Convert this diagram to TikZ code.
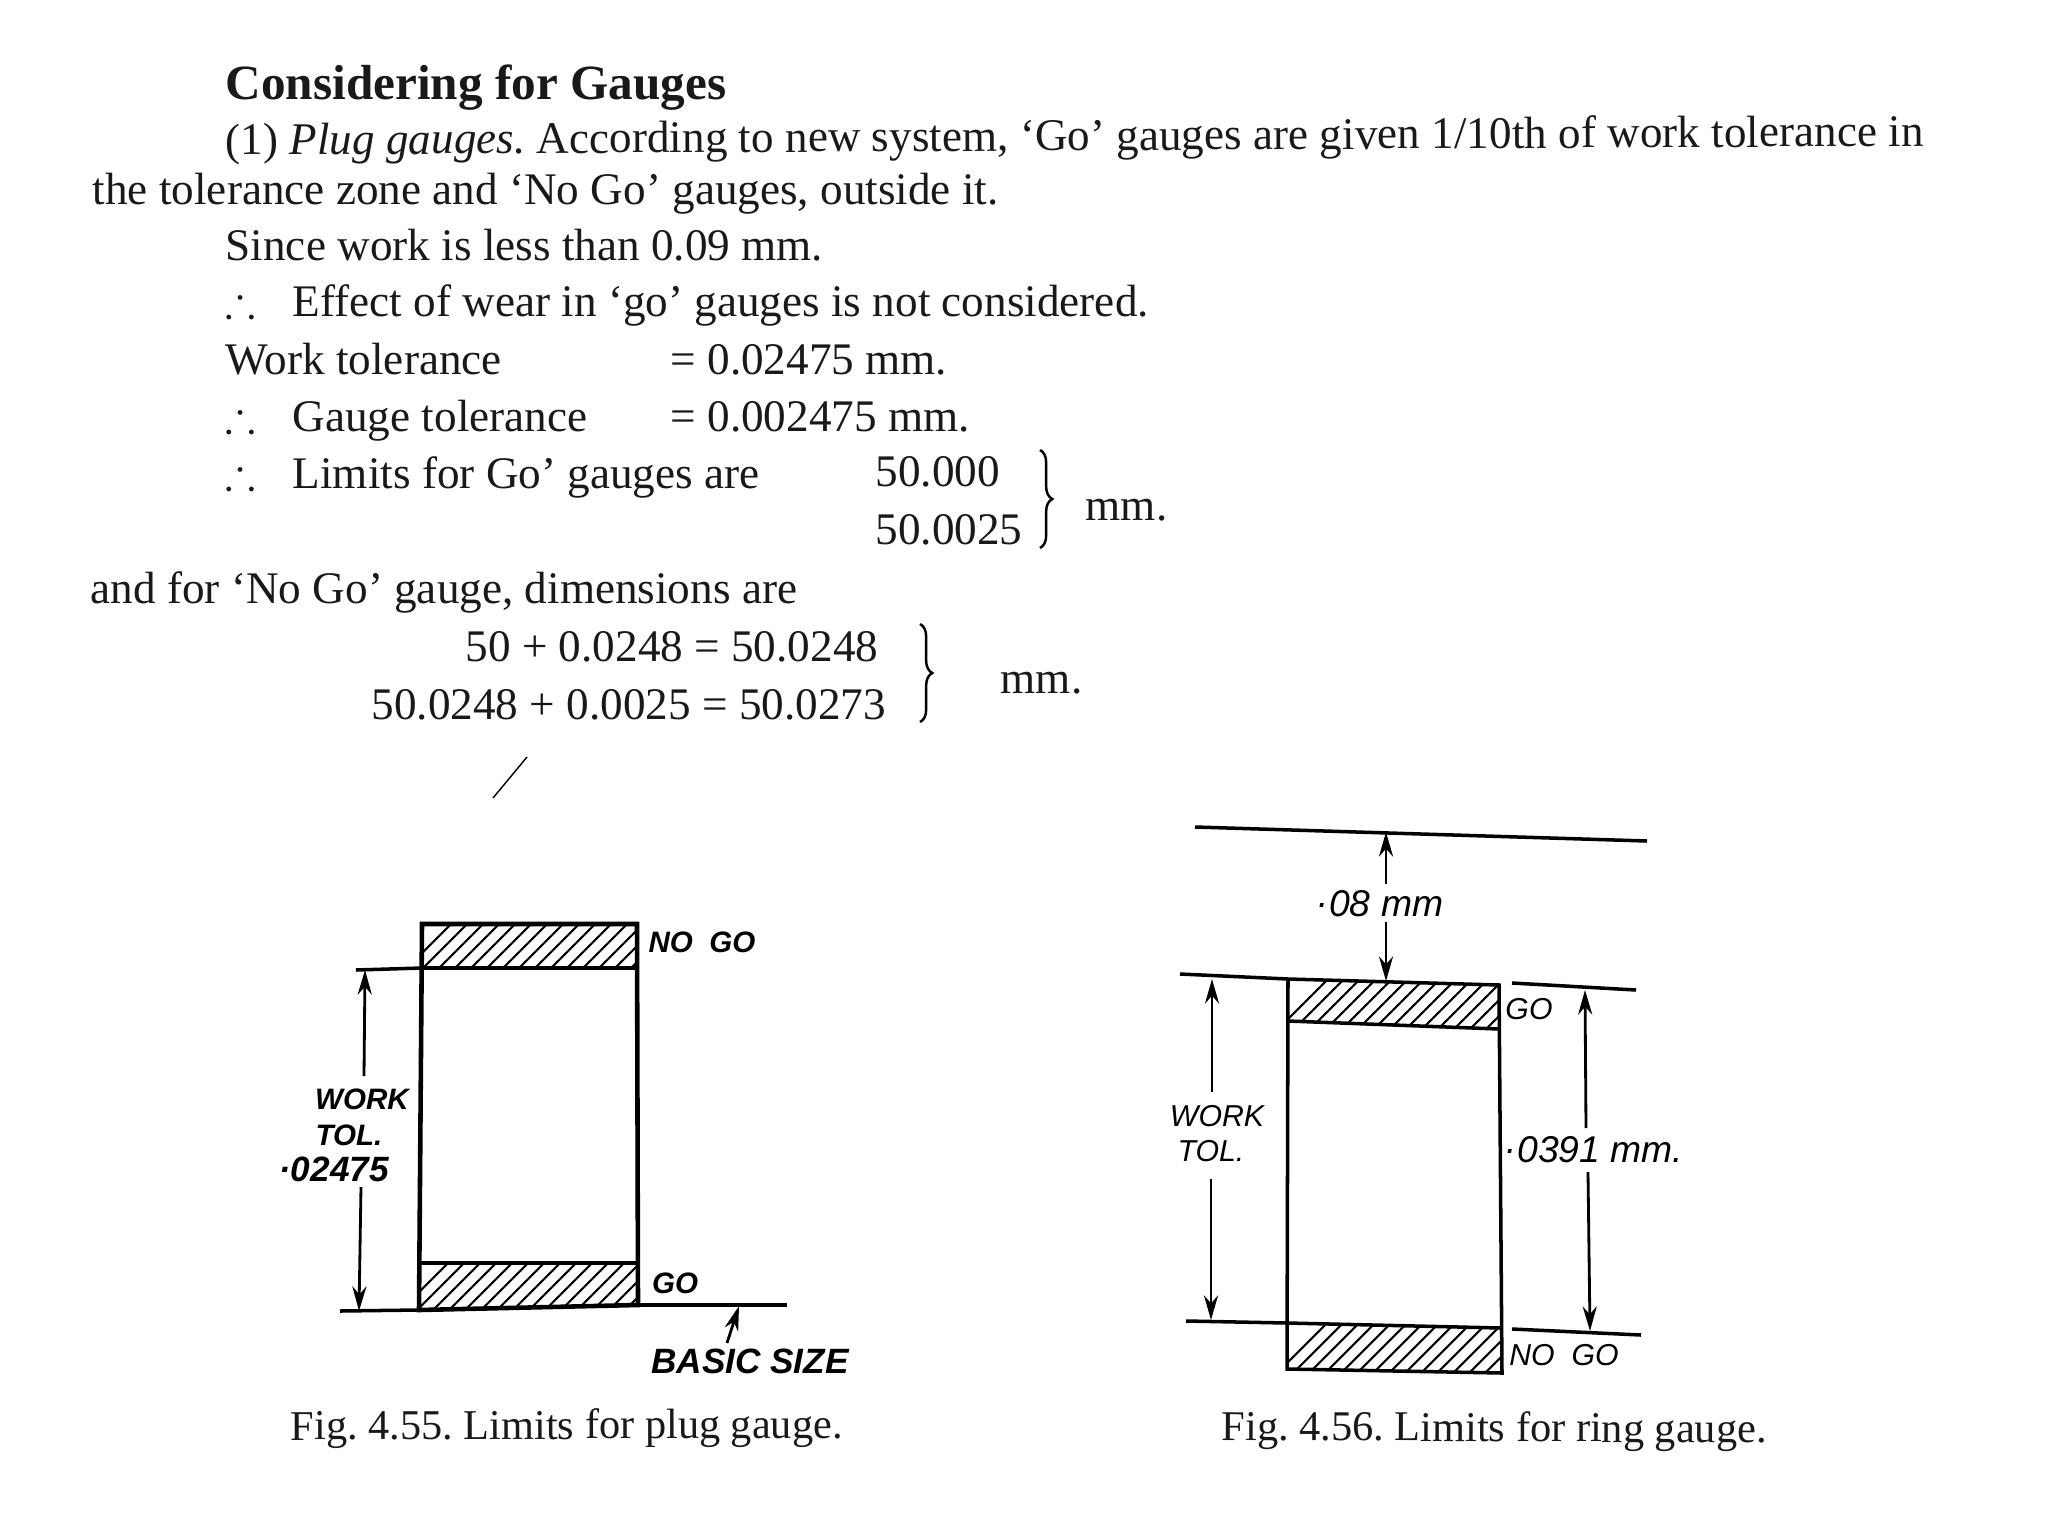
\documentclass[tikz,border=0pt]{standalone}
\usepackage{fontspec}
\usepackage{amssymb}
\usetikzlibrary{arrows.meta, decorations.pathreplacing}
\setmainfont{Liberation Serif}
\newfontfamily\gaugefont{Liberation Sans}
\frenchspacing
\newcommand{\gdot}{\raisebox{.25em}{.}}

\tikzset{
    textline/.style={anchor=base west, inner sep=0pt, text=black!90, font=\fontsize{12.85}{15}\selectfont},
    capline/.style={textline, font=\fontsize{12.05}{15}\selectfont},
    figlabel/.style={inner sep=0pt, font=\gaugefont\itshape\fontsize{8.6}{10}\selectfont},
    figvalue/.style={inner sep=0pt, font=\gaugefont\itshape\fontsize{10.6}{12}\selectfont},
    boldlabel/.style={inner sep=0pt, font=\gaugefont\itshape\bfseries\fontsize{8.4}{10}\selectfont},
    boldvalue/.style={inner sep=0pt, font=\gaugefont\itshape\bfseries\fontsize{10}{12}\selectfont},
    outline/.style={line width=1.3pt},
    thinline/.style={line width=1pt},
    dimarrow/.style={line width=0.8pt, -{Stealth[length=7pt,width=4pt]}},
    hatchline/.style={line width=0.6pt},
    bracket/.style={line width=0.7pt, decorate, decoration={brace, amplitude=3.5pt, aspect=0.5}}
}

\begin{document}
\begin{tikzpicture}[x=0.01cm,y=-0.01cm]
    \useasboundingbox (0,0) rectangle (2048,1536);

    % text above the figures
    \node[textline, font=\bfseries\fontsize{14}{16}\selectfont] (head) at (225,99) {Considering for Gauges};
    \node[textline, rotate=0.3] (plug) at (225,155) {(1) \textit{Plug gauges.} According to new system, `Go' gauges are given 1/10th of work tolerance in};
    \node[textline] (zone) at (92,204) {the tolerance zone and `No Go' gauges, outside it.};
    \node[textline] (since) at (225,260) {Since work is less than 0.09 mm.};
    \node[textline] (thfa) at (225,316) {$\therefore$};
    \node[textline] (wear) at (292,316) {Effect of wear in `go' gauges is not considered.};
    \node[textline] (work) at (225,374) {Work tolerance};
    \node[textline] (workv) at (670,374) {= 0.02475 mm.};
    \node[textline] (thfb) at (225,431) {$\therefore$};
    \node[textline] (gauge) at (292,431) {Gauge tolerance};
    \node[textline] (gaugev) at (670,431) {= 0.002475 mm.};
    \node[textline] (thfc) at (225,488) {$\therefore$};
    \node[textline] (limits) at (292,488) {Limits for Go' gauges are};
    \node[textline] (lima) at (875,486) {50.000};
    \node[textline] (limb) at (875,544) {50.0025};
    \node[textline] (limmm) at (1085,520) {mm.};
    \node[textline] (forno) at (90,603) {and for `No Go' gauge, dimensions are};
    \node[textline] (noa) at (465,661) {50 + 0.0248 = 50.0248};
    \node[textline] (nob) at (371,719) {50.0248 + 0.0025 = 50.0273};
    \node[textline] (nomm) at (1000,693) {mm.};

    \coordinate (limbt) at (1040,450);
    \coordinate (limbb) at (1040,548);
    \coordinate (nobt) at (920,624);
    \coordinate (nobb) at (920,722);
    \draw[bracket] (limbt) -- (limbb);
    \draw[bracket] (nobt) -- (nobb);

    \coordinate (marka) at (493,798);
    \coordinate (markb) at (527,757);
    \draw[line width=0.4pt] (marka) -- (markb);

    % plug gauge
    \coordinate (pa) at (422,924);
    \coordinate (pb) at (637,924);
    \coordinate (pc) at (638,968);
    \coordinate (pd) at (422,968);
    \coordinate (pe) at (419,1263);
    \coordinate (pf) at (638,1263);
    \coordinate (pg) at (638,1305);
    \coordinate (ph) at (419,1310);

    \begin{scope}
        \clip (pa) -- (pb) -- (pc) -- (pd) -- cycle;
        \foreach \i in {0,...,16} {
            \draw[hatchline] (400+\i*16,975) -- ++(56,-56);
        }
    \end{scope}
    \begin{scope}
        \clip (pe) -- (pf) -- (pg) -- (ph) -- cycle;
        \foreach \i in {0,...,16} {
            \draw[hatchline] (396+\i*16,1315) -- ++(56,-56);
        }
    \end{scope}
    \draw[outline] (pa) -- (pb) -- (pg) -- (ph) -- cycle;
    \draw[outline] (pd) -- (pc);
    \draw[outline] (pe) -- (pf);

    \coordinate (ptol) at (356,970);
    \coordinate (pbase) at (340,1311);
    \coordinate (pbaser) at (787,1305);
    \coordinate (ptipa) at (365,970);
    \coordinate (pgapa) at (364,1076);
    \coordinate (pgapb) at (361,1187);
    \coordinate (ptipb) at (359,1311);
    \draw[thinline] (ptol) -- (pd);
    \draw[thinline] (pbase) -- (ph);
    \draw[thinline] (pg) -- (pbaser);
    \draw[dimarrow] (pgapa) -- (ptipa);
    \draw[dimarrow] (pgapb) -- (ptipb);

    \node[boldlabel] (pnogo) at (702,942) {NO\ \ GO};
    \node[boldlabel] (pgo) at (675,1283) {GO};
    \node[boldvalue] (pbasic) at (750,1361) {BASIC SIZE};
    \coordinate (pbasefoot) at (727,1343);
    \coordinate (pbasetip) at (739,1306);
    \draw[dimarrow] (pbasefoot) -- (pbasetip);
    \node[boldlabel] (pwork) at (362,1099) {WORK};
    \node[boldlabel] (ptolt) at (349,1135) {TOL.};
    \node[boldvalue] (pval) at (335,1169) {\gdot02475};
    \node[capline, rotate=0.2] (pcap) at (290,1440) {Fig. 4.55. Limits for plug gauge.};

    % ring gauge
    \coordinate (ra) at (1288,979);
    \coordinate (rb) at (1499,985);
    \coordinate (rc) at (1499,1029);
    \coordinate (rd) at (1288,1021);
    \coordinate (re) at (1287,1323);
    \coordinate (rf) at (1501,1328);
    \coordinate (rg) at (1502,1373);
    \coordinate (rh) at (1287,1369);

    \begin{scope}
        \clip (ra) -- (rb) -- (rc) -- (rd) -- cycle;
        \foreach \i in {0,...,16} {
            \draw[hatchline] (1272+\i*16,1035) -- ++(60,-60);
        }
    \end{scope}
    \begin{scope}
        \clip (re) -- (rf) -- (rg) -- (rh) -- cycle;
        \foreach \i in {0,...,16} {
            \draw[hatchline] (1272+\i*16,1378) -- ++(60,-60);
        }
    \end{scope}
    \draw[thinline] (ra) -- (rb) -- (rg) -- (rh) -- cycle;
    \draw[thinline] (rd) -- (rc);
    \draw[thinline] (re) -- (rf);

    \coordinate (rtopl) at (1195,827);
    \coordinate (rtopr) at (1647,841);
    \coordinate (rhighl) at (1180,974);
    \coordinate (rlowl) at (1186,1321);
    \coordinate (rhighs) at (1512,983);
    \coordinate (rhighe) at (1636,990);
    \coordinate (rlows) at (1512,1329);
    \coordinate (rlowe) at (1641,1335);
    \draw[thinline] (rtopl) -- (rtopr);
    \draw[thinline] (rhighl) -- (ra);
    \draw[thinline] (rlowl) -- (re);
    \draw[thinline] (rhighs) -- (rhighe);
    \draw[thinline] (rlows) -- (rlowe);

    \coordinate (rtipa) at (1386,832);
    \coordinate (rgapa) at (1386,884);
    \coordinate (rgapb) at (1386,922);
    \coordinate (rtipb) at (1386,981);
    \draw[dimarrow] (rgapa) -- (rtipa);
    \draw[dimarrow] (rgapb) -- (rtipb);

    \coordinate (rwtipa) at (1212,979);
    \coordinate (rwgapa) at (1212,1092);
    \coordinate (rwgapb) at (1211,1179);
    \coordinate (rwtipb) at (1211,1320);
    \draw[dimarrow] (rwgapa) -- (rwtipa);
    \draw[dimarrow] (rwgapb) -- (rwtipb);

    \coordinate (rvtipa) at (1585,990);
    \coordinate (rvgapa) at (1586,1128);
    \coordinate (rvgapb) at (1588,1172);
    \coordinate (rvtipb) at (1590,1331);
    \draw[dimarrow] (rvgapa) -- (rvtipa);
    \draw[dimarrow] (rvgapb) -- (rvtipb);

    \node[figvalue] (rgap) at (1381,904) {\gdot08 mm};
    \node[figlabel] (rgo) at (1529,1009) {GO};
    \node[figlabel] (rnogo) at (1564,1355) {NO\ \ GO};
    \node[figlabel] (rwork) at (1217,1116) {WORK};
    \node[figlabel] (rtolt) at (1211,1151) {TOL.};
    \node[figvalue] (rval) at (1595,1150) {\gdot0391 mm.};
    \node[capline, rotate=-0.3] (rcap) at (1221,1440) {Fig. 4.56. Limits for ring gauge.};
\end{tikzpicture}
\end{document}
